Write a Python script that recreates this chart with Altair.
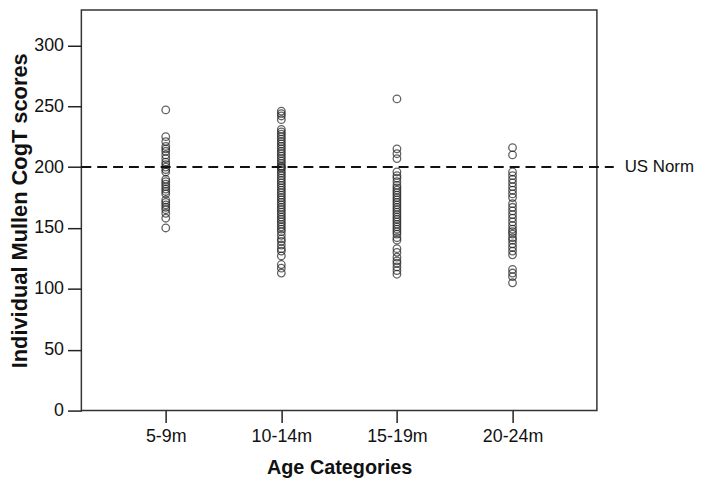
import altair as alt
import pandas as pd

categories = ["5-9m", "10-14m", "15-19m", "20-24m"]

scores_5_9 = [247, 225, 221, 217, 215, 213, 210, 207, 204, 202, 200, 198, 196, 190, 188,
              186, 184, 182, 180, 178, 173, 171, 169, 167, 165, 162, 158, 150]
scores_10_14 = [246, 244, 242, 239, 231, 229, 227, 225, 223, 221, 219, 217, 215, 213, 211,
                209, 207, 205, 203, 201, 200, 199, 197, 195, 193, 191, 189, 187, 185, 183,
                181, 179, 177, 175, 173, 171, 169, 167, 165, 163, 161, 159, 157, 155, 153,
                151, 149, 147, 144, 141, 139, 136, 133, 131, 127, 120, 117, 113]
scores_15_19 = [256, 215, 211, 207, 196, 193, 191, 188, 185, 183, 181, 179, 177, 175, 173,
                171, 169, 167, 165, 163, 161, 159, 157, 155, 153, 151, 149, 147, 145, 142,
                140, 133, 130, 126, 123, 121, 118, 115, 112]
scores_20_24 = [216, 210, 196, 193, 190, 187, 184, 181, 178, 175, 170, 167, 164, 161, 158,
                155, 152, 149, 147, 145, 142, 140, 137, 134, 131, 128, 116, 113, 110, 105]

norm_value = [200]
norm_label = ["US Norm"]
y_ticks = [0, 50, 100, 150, 200, 250, 300]

rows = []
for cat, vals in zip(categories, [scores_5_9, scores_10_14, scores_15_19, scores_20_24]):
    for v in vals:
        rows.append({"age": cat, "score": v})
df = pd.DataFrame(rows)
norm_df = pd.DataFrame({"score": norm_value, "label": norm_label})

FONT = "Liberation Sans"
W, H = 520, 404
ydom = [0, 329]

x_enc = alt.X("age:N", sort=categories,
              scale=alt.Scale(type="point", padding=0.73),
              axis=alt.Axis(title="Age Categories", labelAngle=0, domain=False,
                            ticks=True, tickSize=12, tickColor="#222", tickWidth=1.5,
                            labelFont=FONT, labelFontSize=18, labelColor="#111",
                            labelPadding=5, titleFont=FONT, titleFontSize=20,
                            titleFontWeight="bold", titleColor="#111", titlePadding=12,
                            grid=False))
y_scale = alt.Scale(domain=ydom, nice=False, zero=True)

points = alt.Chart(df).mark_point(shape="circle", filled=False, size=58,
                                  strokeWidth=1.3, color="#222").encode(
    x=x_enc,
    y=alt.Y("score:Q", scale=y_scale,
            axis=alt.Axis(title="Individual Mullen CogT scores", values=y_ticks,
                          domain=False, ticks=True, tickSize=14, tickColor="#222",
                          tickWidth=1.5, labelFont=FONT, labelFontSize=18,
                          labelColor="#111", labelPadding=4, titleFont=FONT,
                          titleFontSize=22, titleFontWeight="bold", titleColor="#111",
                          titleX=-50, grid=False))
)

rule = alt.Chart(norm_df).mark_rule(strokeDash=[10, 6], strokeWidth=2, color="#111").encode(
    y=alt.Y("score:Q", scale=y_scale),
    x=alt.value(0),
    x2=alt.value(537),
)

label = alt.Chart(norm_df).mark_text(align="left", baseline="middle", font=FONT,
                                     fontSize=17, color="#111").encode(
    y=alt.Y("score:Q", scale=y_scale),
    x=alt.value(548),
    text="label:N",
)

chart = alt.layer(points, rule, label).properties(
    width=W, height=H,
    autosize=alt.AutoSizeParams(type="none"),
    padding={"left": 74, "top": 0, "right": 105, "bottom": 77},
).configure_view(stroke="#333", strokeWidth=1.5)

chart.save("out.html", embed_options={"renderer": "svg", "actions": False})
